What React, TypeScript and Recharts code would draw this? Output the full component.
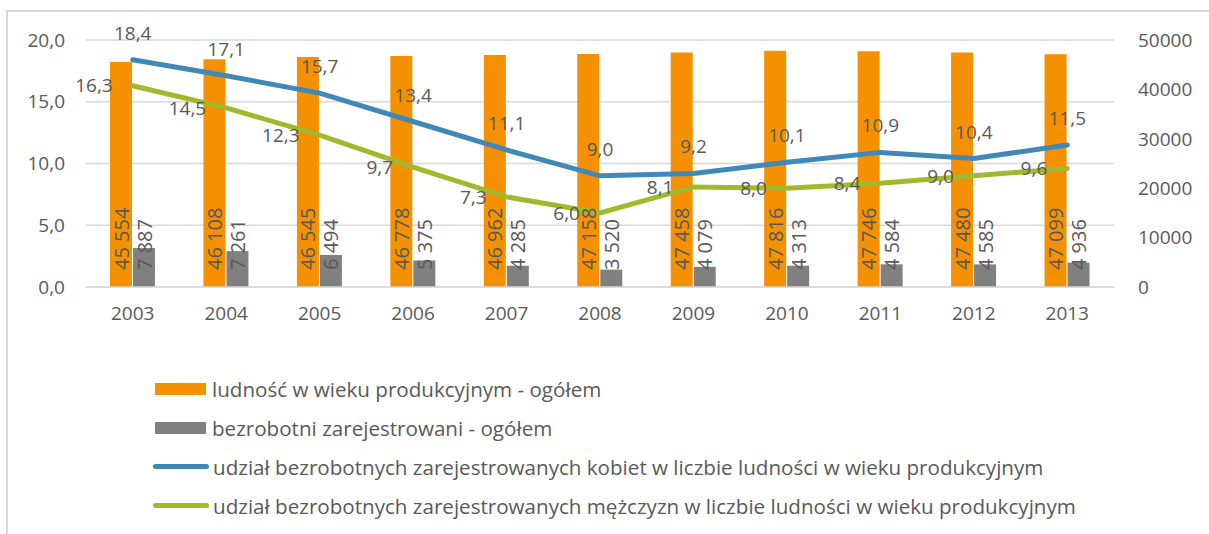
import React from 'react';
import { ComposedChart, Bar, Line, XAxis, YAxis, CartesianGrid, LabelList } from 'recharts';

// values
const years = ['2003', '2004', '2005', '2006', '2007', '2008', '2009', '2010', '2011', '2012', '2013'];
const populationTotal = [45554, 46108, 46545, 46778, 46962, 47158, 47458, 47816, 47746, 47480, 47099];
const unemployedTotal = [7887, 7261, 6494, 5375, 4285, 3520, 4079, 4313, 4584, 4585, 4936];
const womenShare = [18.4, 17.1, 15.7, 13.4, 11.1, 9.0, 9.2, 10.1, 10.9, 10.4, 11.5];
const menShare = [16.3, 14.5, 12.3, 9.7, 7.3, 6.0, 8.1, 8.0, 8.4, 9.0, 9.6];

const leftTicks = [0, 5, 10, 15, 20];
const rightTicks = [0, 10000, 20000, 30000, 40000, 50000];

const seriesNames = {
  population: 'ludność w wieku produkcyjnym - ogółem',
  unemployed: 'bezrobotni zarejestrowani - ogółem',
  women: 'udział bezrobotnych zarejestrowanych kobiet w liczbie ludności w wieku produkcyjnym',
  men: 'udział bezrobotnych zarejestrowanych mężczyzn w liczbie ludności w wieku produkcyjnym',
};

const ORANGE = '#f59100';
const GREY = '#808080';
const BLUE = '#3f88b8';
const GREEN = '#a2b92c';
const TEXT = '#595959';
const FONT = '"Open Sans", sans-serif';

const data = years.map((year, i) => ({
  year,
  population: populationTotal[i],
  unemployed: unemployedTotal[i],
  women: womenShare[i],
  men: menShare[i],
}));

const fmtDec = (v: number) => v.toFixed(1).replace('.', ',');
const fmtInt = (v: number) => String(v).replace(/\B(?=(\d{3})+(?!\d))/g, ' ');

const BarValueLabel = (props: any) => {
  const { x, y, width, height, value } = props;
  const cx = Number(x) + Number(width) / 2;
  const by = Number(y) + Number(height) - 17;
  return (
    <text
      x={cx}
      y={by}
      transform={`rotate(-90 ${cx} ${by})`}
      textAnchor="start"
      dominantBaseline="central"
      fill={TEXT}
      fontSize={20}
      fontFamily={FONT}
    >
      {fmtInt(value)}
    </text>
  );
};

const LegendRow = ({ color, label, kind }: { color: string; label: string; kind: 'bar' | 'line' }) => (
  <div style={{ display: 'flex', alignItems: 'center', height: 39 }}>
    {kind === 'bar' ? (
      <div style={{ width: 51, height: 12, background: color, marginLeft: 2, marginRight: 6 }} />
    ) : (
      <div style={{ width: 56, height: 5, background: color, borderRadius: 3, marginRight: 4 }} />
    )}
    <span style={{ fontSize: 20.6, color: TEXT, whiteSpace: 'nowrap' }}>{label}</span>
  </div>
);

export default function App() {
  return (
    <div
      style={{
        position: 'absolute',
        left: 0,
        top: 0,
        width: 1209,
        height: 534,
        overflow: 'hidden',
        background: '#fff',
        fontFamily: FONT,
      }}
    >
      <div
        style={{
          position: 'absolute',
          left: 6,
          top: 10,
          width: 1300,
          height: 600,
          borderTop: '2px solid #d9d9d9',
          borderLeft: '2px solid #d9d9d9',
        }}
      />
      <div style={{ position: 'absolute', left: 0, top: 0 }}>
        <ComposedChart
          width={1209}
          height={340}
          data={data}
          margin={{ top: 40, right: 0, left: 0, bottom: 13 }}
          barSize={22}
          barGap={1}
        >
          <CartesianGrid yAxisId="left" vertical={false} stroke="#d9d9d9" strokeWidth={1.5} />
          <XAxis
            dataKey="year"
            axisLine={{ stroke: '#d9d9d9', strokeWidth: 1.5 }}
            tickLine={false}
            tickMargin={14}
            height={40}
            tick={{ fill: TEXT, fontSize: 19, fontFamily: FONT }}
          />
          <YAxis
            yAxisId="left"
            orientation="left"
            width={86}
            domain={[0, 20]}
            ticks={leftTicks}
            axisLine={false}
            tickLine={false}
            tickMargin={15}
            tickFormatter={(v: number) => fmtDec(v)}
            tick={{ fill: TEXT, fontSize: 19, fontFamily: FONT }}
          />
          <YAxis
            yAxisId="right"
            orientation="right"
            width={95}
            domain={[0, 50000]}
            ticks={rightTicks}
            axisLine={false}
            tickLine={false}
            tickMargin={18}
            tick={{ fill: TEXT, fontSize: 19, fontFamily: FONT }}
          />
          <Bar yAxisId="right" dataKey="population" name={seriesNames.population} fill={ORANGE} isAnimationActive={false}>
            <LabelList dataKey="population" content={<BarValueLabel />} />
          </Bar>
          <Bar yAxisId="right" dataKey="unemployed" name={seriesNames.unemployed} fill={GREY} isAnimationActive={false}>
            <LabelList dataKey="unemployed" content={<BarValueLabel />} />
          </Bar>
          <Line
            yAxisId="left"
            type="linear"
            dataKey="women"
            name={seriesNames.women}
            stroke={BLUE}
            strokeWidth={5}
            strokeLinecap="round"
            dot={false}
            isAnimationActive={false}
          >
            <LabelList
              dataKey="women"
              position="top"
              offset={20}
              formatter={(v: any) => fmtDec(Number(v))}
              style={{ fill: TEXT, fontSize: 19, fontFamily: FONT }}
            />
          </Line>
          <Line
            yAxisId="left"
            type="linear"
            dataKey="men"
            name={seriesNames.men}
            stroke={GREEN}
            strokeWidth={5}
            strokeLinecap="round"
            dot={false}
            isAnimationActive={false}
          >
            <LabelList
              dataKey="men"
              position="left"
              offset={20}
              formatter={(v: any) => fmtDec(Number(v))}
              style={{ fill: TEXT, fontSize: 19, fontFamily: FONT }}
            />
          </Line>
        </ComposedChart>
      </div>
      <div style={{ position: 'absolute', left: 153, top: 369 }}>
        <LegendRow color={ORANGE} label={seriesNames.population} kind="bar" />
        <LegendRow color={GREY} label={seriesNames.unemployed} kind="bar" />
        <LegendRow color={BLUE} label={seriesNames.women} kind="line" />
        <LegendRow color={GREEN} label={seriesNames.men} kind="line" />
      </div>
    </div>
  );
}
